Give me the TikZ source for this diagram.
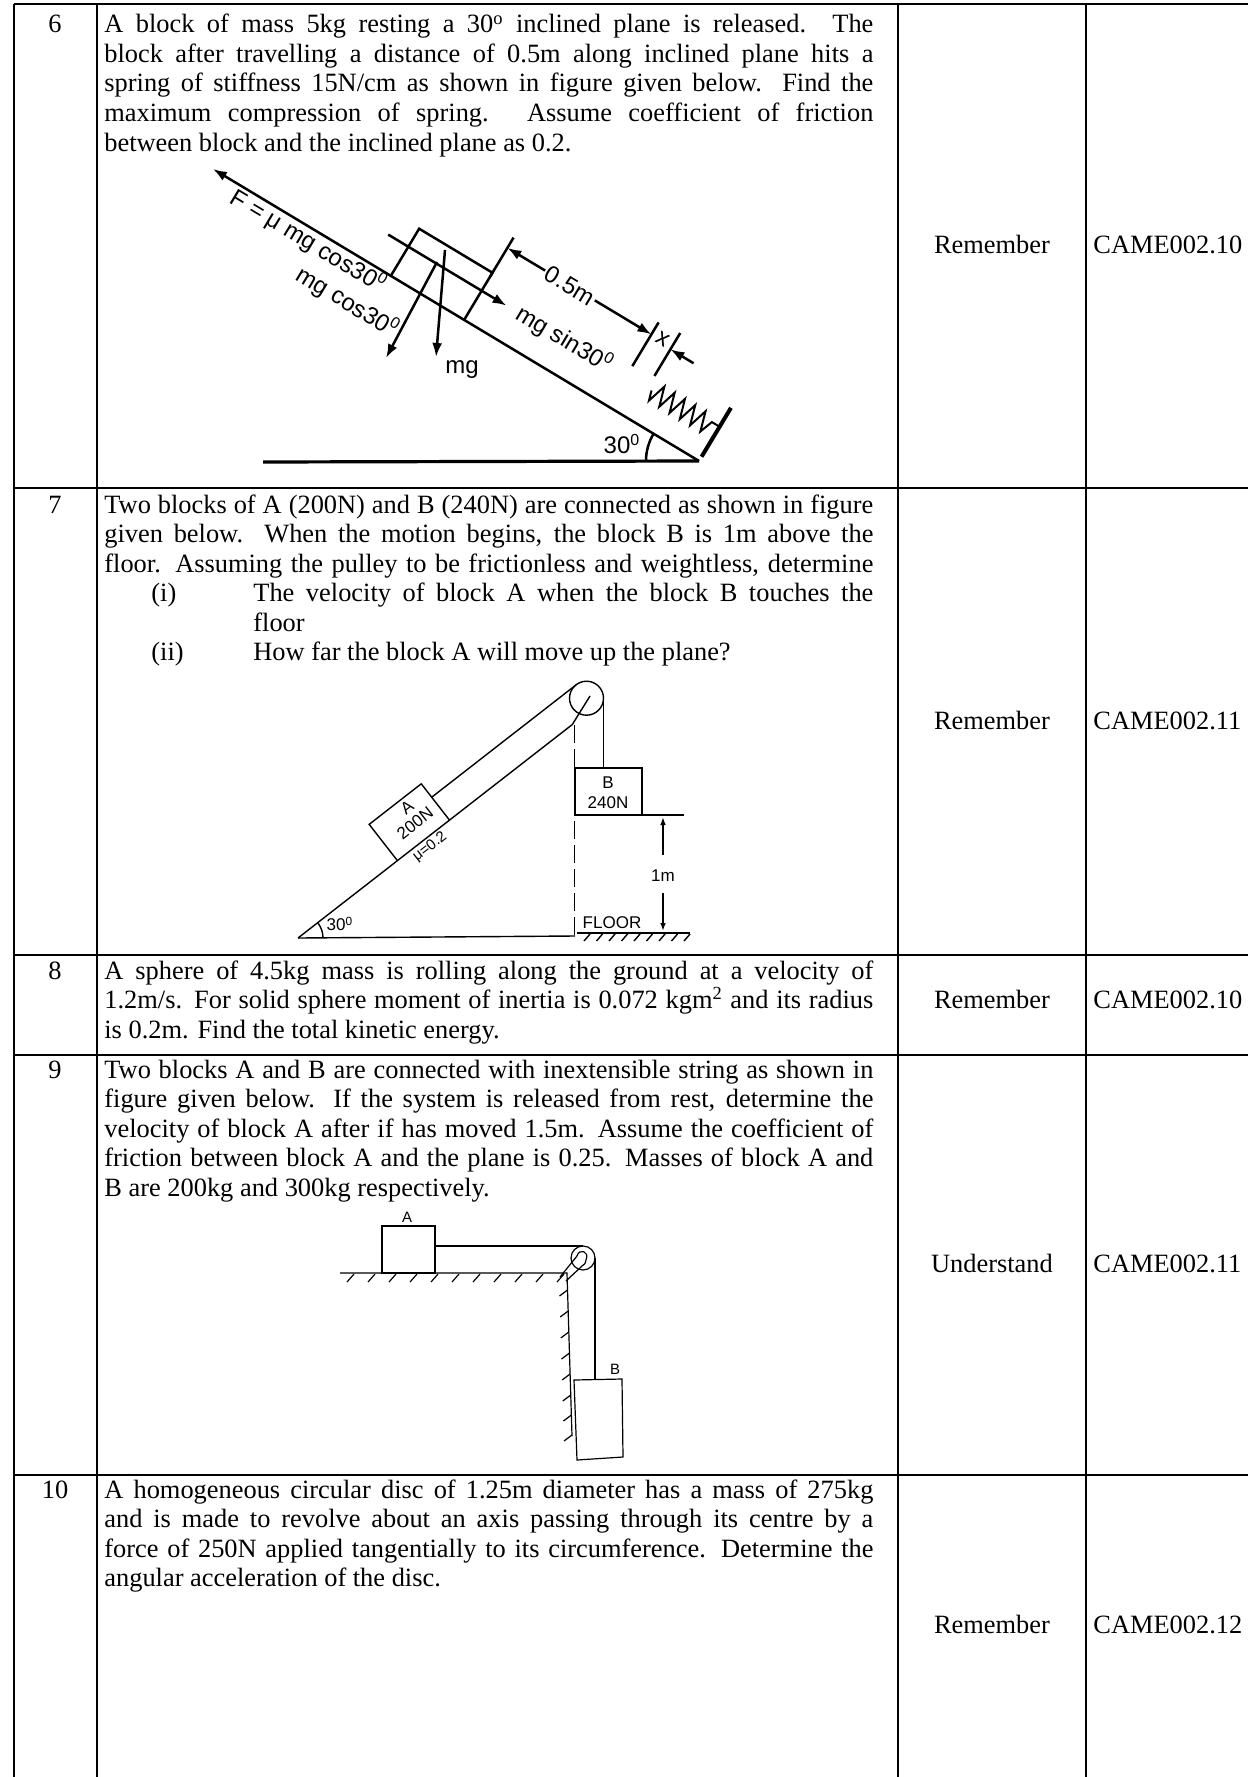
\documentclass[tikz,border=0pt]{standalone}
\usepackage{fontspec}
\setmainfont{Liberation Serif}
\newfontfamily\labfont{Liberation Sans}
\usetikzlibrary{arrows.meta}
\newcommand{\myjust}[1]{\makebox[384.5pt][s]{#1}}
\newcommand{\myjusti}[1]{\makebox[310pt][s]{#1}}
\tikzset{
  tbl/.style={line width=0.9pt},
  body/.style={anchor=base west, inner sep=0pt, font=\fontsize{13.2}{15}\selectfont},
  cbody/.style={anchor=base, inner sep=0pt, font=\fontsize{13.2}{15}\selectfont},
  fone/.style={line width=1.25pt},
  fhead/.style={-{Latex[length=7pt,width=5pt]}},
  fonelab/.style={inner sep=0pt, font=\labfont\fontsize{12}{14}\selectfont},
  ftwo/.style={line width=0.7pt},
  ftwohead/.style={-{Latex[length=4pt,width=2.8pt]}},
  ftwolab/.style={inner sep=0pt, font=\labfont\fontsize{8.5}{10}\selectfont},
  fthree/.style={line width=0.6pt},
  fthreelab/.style={inner sep=0pt, font=\labfont\fontsize{7.5}{9}\selectfont},
}
\begin{document}
\begin{tikzpicture}[x=0.5pt,y=-0.5pt]
\useasboundingbox (0,0) rectangle (1248,1777);
\fill[white] (0,0) rectangle (1248,1777);
% ---------------- table ----------------
\draw[line width=1.2pt] (14,4) -- (1248,4);
\draw[tbl] (14,488) -- (1248,488);
\draw[tbl] (14,955) -- (1248,955);
\draw[tbl] (14,1055) -- (1248,1055);
\draw[tbl] (14,1475) -- (1248,1475);
\foreach \xx in {14,97,898,1086} \draw[tbl] (\xx,4) -- (\xx,1777);
% numbers
\node[cbody] (n6) at (55,33) {6};
\node[cbody] (n7) at (55,513) {7};
\node[cbody] (n8) at (55,979) {8};
\node[cbody] (n9) at (55,1078) {9};
\node[cbody] (n10) at (55,1498) {10};
% levels and codes
\node[cbody] (lv6) at (992,253) {Remember};
\node[body] (cd6) at (1093,253) {CAME002.10};
\node[cbody] (lv7) at (992,729) {Remember};
\node[body] (cd7) at (1093,729) {CAME002.11};
\node[cbody] (lv8) at (992,1008.5) {Remember};
\node[body] (cd8) at (1093,1008.5) {CAME002.10};
\node[cbody] (lv9) at (992,1272) {Understand};
\node[body] (cd9) at (1093,1272) {CAME002.11};
\node[cbody] (lv10) at (992,1633) {Remember};
\node[body] (cd10) at (1093,1633) {CAME002.12};
% ---------------- row 6 text ----------------
\node[body] (t6a) at (104,33) {\myjust{A block of mass 5kg resting a 30\textsuperscript{o} inclined plane is released. The}};
\node[body] (t6b) at (104,62.5) {\myjust{block after travelling a distance of 0.5m along inclined plane hits a}};
\node[body] (t6c) at (104,92) {\myjust{spring of stiffness 15N/cm as shown in figure given below. Find the}};
\node[body] (t6d) at (104,121.5) {\myjust{maximum compression of spring. Assume coefficient of friction}};
\node[body] (t6e) at (104,151) {between block and the inclined plane as 0.2.};
% ---------------- row 7 text ----------------
\node[body] (t7a) at (104,513) {\myjust{Two blocks of A (200N) and B (240N) are connected as shown in figure}};
\node[body] (t7b) at (104,542.5) {\myjust{given below. When the motion begins, the block B is 1m above the}};
\node[body] (t7c) at (104,572) {\myjust{floor. Assuming the pulley to be frictionless and weightless, determine}};
\node[body] (t7d) at (151,601.5) {(i)};
\node[body] (t7e) at (253,601.5) {\myjusti{The velocity of block A when the block B touches the}};
\node[body] (t7f) at (253,631) {floor};
\node[body] (t7g) at (151,660.5) {(ii)};
\node[body] (t7h) at (253,660.5) {How far the block A will move up the plane?};
% ---------------- row 8 text ----------------
\node[body] (t8a) at (104,979) {\myjust{A sphere of 4.5kg mass is rolling along the ground at a velocity of}};
\node[body] (t8b) at (104,1008.5) {\myjust{1.2m/s. For solid sphere moment of inertia is 0.072 kgm\textsuperscript{2} and its radius}};
\node[body] (t8c) at (104,1038) {is 0.2m. Find the total kinetic energy.};
% ---------------- row 9 text ----------------
\node[body] (t9a) at (104,1078) {\myjust{Two blocks A and B are connected with inextensible string as shown in}};
\node[body] (t9b) at (104,1107.5) {\myjust{figure given below. If the system is released from rest, determine the}};
\node[body] (t9c) at (104,1137) {\myjust{velocity of block A after if has moved 1.5m. Assume the coefficient of}};
\node[body] (t9d) at (104,1166.5) {\myjust{friction between block A and the plane is 0.25. Masses of block A and}};
\node[body] (t9e) at (104,1196) {B are 200kg and 300kg respectively.};
% ---------------- row 10 text ----------------
\node[body] (t10a) at (104,1498) {\myjust{A homogeneous circular disc of 1.25m diameter has a mass of 275kg}};
\node[body] (t10b) at (104,1527.5) {\myjust{and is made to revolve about an axis passing through its centre by a}};
\node[body] (t10c) at (104,1557) {\myjust{force of 250N applied tangentially to its circumference. Determine the}};
\node[body] (t10d) at (104,1586.5) {angular acceleration of the disc.};
% ---------------- figure 1 ----------------
\draw[line width=1.6pt] (263,462) -- (699,461);
\draw[fone] (646,461) arc[start angle=180, end angle=211, radius=53];
\draw[fone,fhead] (445,250) -- (436,357);
\draw[fone,fhead] (437,262) -- (386,358);
\node[fonelab] (lmg) at (462,370) {mg};
\node[fonelab] (l30a) at (622,444) {30\textsuperscript{0}};
\begin{scope}[shift={(699,461)}, x={(-0.4286pt,0.2575pt)}, y={(0.2575pt,0.4286pt)}]
  \draw[fone,fhead] (0,0) -- (567,0);
  \draw[fone] (274,0) -- (274,55) -- (359.5,55) -- (359.5,0);
  \draw[fone,fhead] (383,34) -- (245,34);
  \draw[fone] (274,50) -- (274,96);
  \draw[fone,fhead] (230,84) -- (274,84);
  \draw[fone,fhead] (172,84) -- (106,84);
  \draw[fone] (106,47) -- (106,98);
  \draw[fone] (82,50) -- (82,100);
  \draw[fone,fhead] (55,81) -- (82,81);
  \draw[line width=1pt] (77,36) -- (74,26) -- (68,46) -- (62,26) -- (56,46) -- (50,26) -- (44,46) -- (38,26) -- (32,46) -- (26,26) -- (20,46) -- (14,26) -- (9,40) -- (0,40);
  \draw[line width=2pt] (0,5) -- (0,62);
  \node[fonelab, rotate=-31] (lF) at (448,-13) {F = μ mg cos30\textsuperscript{0}};
  \node[fonelab, rotate=-31] (lmgc) at (383,-45) {mg cos30\textsuperscript{0}};
  \node[fonelab, rotate=-31] (l05) at (201,84) {0.5m};
  \node[fonelab, rotate=-31] (lmgs) at (178,35) {mg sin30\textsuperscript{0}};
  \node[fonelab, rotate=-31] (lx) at (94,86) {x};
\end{scope}
% ---------------- figure 2 ----------------
\begin{scope}[shift={(298,938)}, x={(0.3945pt,0.307pt)}, y={(-0.307pt,0.3945pt)}]
  \draw[ftwo] (0,0) -- (347,0);
  \draw[ftwo] (126,0) -- (126,46) -- (192,46) -- (192,0);
  \draw[ftwo] (192,29) -- (375,29);
\end{scope}
\draw[ftwo] (586.5,698.2) circle[radius=17];
\draw[ftwo] (572,725) -- (590,696);
\draw[ftwo] (603.5,698.2) -- (603.5,768);
\draw[ftwo, dash pattern=on 9pt off 3pt] (574.5,725) -- (574.5,935);
\draw[ftwo] (298,938) -- (575,936);
\draw[ftwo] (577,933) -- (690,933);
\foreach \i in {0,...,8} \draw[ftwo] ({584+12.5*\i},941) -- ({590+12.5*\i},934);
\draw[ftwo] (575,768) rectangle (642,815);
\draw[ftwo] (642,815) -- (684,815);
\draw[ftwo,ftwohead] (663,855) -- (663,817);
\draw[ftwo,ftwohead] (663,893) -- (663,931);
\draw[ftwo] (323,938) arc[start angle=0, end angle=-37.9, radius=25];
\node[ftwolab] (B2a) at (608,783) {B};
\node[ftwolab] (B2b) at (608,803) {240N};
\node[ftwolab] (m1) at (663,876) {1m};
\node[ftwolab] (flr) at (612,923) {FLOOR};
\node[ftwolab] (l30b) at (340,924) {30\textsuperscript{0}};
\node[ftwolab, rotate=37.9] (A2a) at (407,807) {A};
\node[ftwolab, rotate=37.9] (A2b) at (415,823) {200N};
\node[inner sep=0pt, font=\labfont\fontsize{7.5}{9}\selectfont, rotate=37.9] (mu2) at (430,847) {μ=0.2};
% ---------------- figure 3 ----------------
\draw[fthree] (340,1273) -- (567,1273) -- (572,1436);
\foreach \xx in {347,368,389,410,431,452,473,494,515,536,557} \draw[fthree] (\xx,1282) -- ({\xx+7},1274);
\foreach \yy/\xw in {1290/567.5,1311/568.2,1332/568.8,1353/569.5,1374/570.1,1395/570.8,1415/571.4,1435/572}
  \draw[fthree] ({\xw-8},{\yy+6}) -- (\xw,\yy);
\draw[fthree] (382,1226) rectangle (435,1273);
\node[fthreelab] (A3) at (407,1217) {A};
\draw[fthree] (435,1246) -- (583,1246);
\draw[fthree] (583,1258) circle[radius=12];
\draw[fthree] (560,1277) -- (577,1256);
\draw[fthree] (566,1281) -- (582,1266);
\draw[fthree] (577,1256) .. controls (579,1248) and (590,1251) .. (586,1260) .. controls (585,1264) .. (582,1266);
\draw[fthree] (595,1258) -- (595,1380);
\draw[fthree] (574,1380) -- (622,1379) -- (623,1457) -- (577,1460) -- cycle;
\node[fthreelab] (B3) at (615,1369) {B};
\end{tikzpicture}
\end{document}
